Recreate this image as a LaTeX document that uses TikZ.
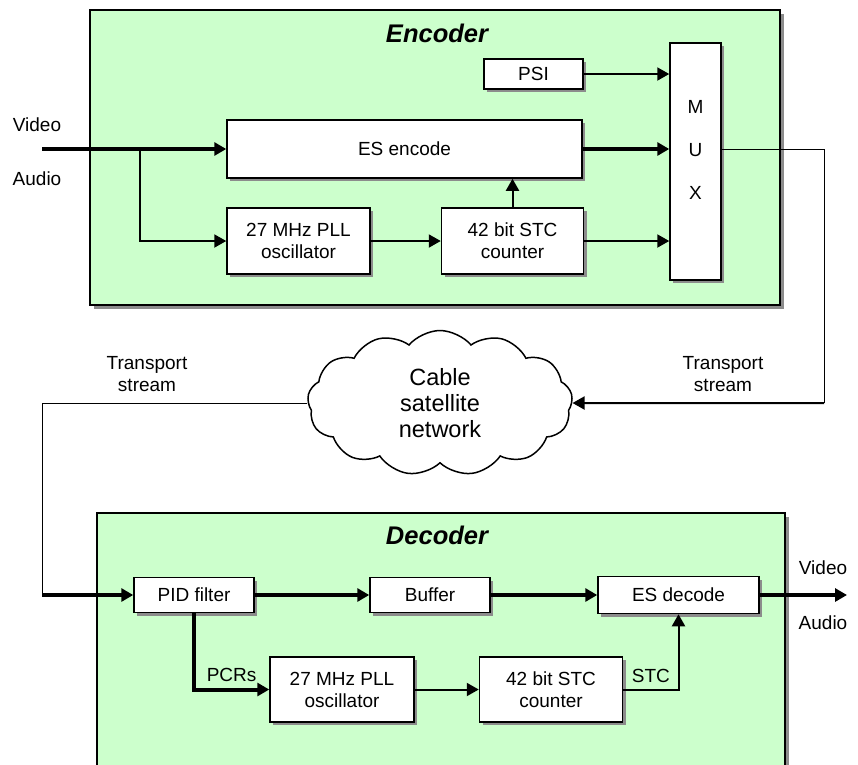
\documentclass[tikz,border=0pt]{standalone}
\usepackage{fontspec}
\setmainfont{Liberation Sans}
\usetikzlibrary{arrows.meta, positioning, shapes.symbols, shadows, calc}

\definecolor{panelgreen}{RGB}{204,255,204}

\begin{document}
\begin{tikzpicture}[
    x=1pt, y=-1pt,
    font=\fontsize{19}{22}\selectfont,
    panel/.style={draw, line width=1.5pt, fill=panelgreen, inner sep=0pt,
        drop shadow={shadow xshift=4pt, shadow yshift=-4pt, fill=black!45, opacity=1}},
    box/.style={draw, line width=1.5pt, fill=white, align=center, inner sep=0pt,
        drop shadow={shadow xshift=3pt, shadow yshift=-3pt, fill=black!45, opacity=1}},
    title/.style={font=\fontsize{25.5}{30}\selectfont\bfseries\itshape},
    arrow/.style={-{Triangle[length=12pt, width=13pt]}, line width=2pt},
    fat/.style={arrow, line width=4pt},
    wire/.style={line width=1pt}
]
\useasboundingbox (0,0) rectangle (858,764);
\clip (0,0) rectangle (858,764);

% Encoder
\node[panel, minimum width=690pt, minimum height=295pt] (enc) at (435,157.5) {};
\node[title] (enctitle) at (437,33) {Encoder};

\node[box, minimum width=99pt, minimum height=30pt] (psi) at (533.5,74) {PSI};
\node[box, minimum width=355pt, minimum height=58pt] (esenc) at (404.5,149) {ES encode};
\node[box, minimum width=143pt, minimum height=66pt] (pll1) at (298.5,241) {27 MHz PLL\\oscillator};
\node[box, minimum width=142pt, minimum height=66pt, right=70pt of pll1] (stc1) {42 bit STC\\counter};
\node[box, minimum width=51pt, minimum height=237pt] (mux) at (695.5,161.5) {};
\node[align=center, font=\fontsize{19}{43}\selectfont] (muxtext) at (695.5,150) {M\\U\\X};

\node (vidin) at (37,125) {Video};
\node (audin) at (37,179) {Audio};
\coordinate (vin) at (42,149);
\coordinate (split) at (140,149);

\draw[fat] (vin) -- (esenc.west);
\draw[arrow] (split) |- (pll1.west);
\draw[arrow] (pll1) -- (stc1);
\draw[arrow] (stc1.north) -- (stc1.north |- esenc.south);
\draw[arrow] (stc1.east) -- (stc1.east -| mux.west);
\draw[fat] (esenc.east) -- (esenc.east -| mux.west);
\draw[arrow] (psi.east) -- (psi.east -| mux.west);

% Network
\node[cloud, draw, line width=1.5pt, cloud puffs=13, cloud puff arc=100, cloud ignores aspect,
      minimum width=265pt, minimum height=145pt, align=center,
      font=\fontsize{23.5}{26}\selectfont] (net) at (440,403) {Cable\\satellite\\network};

\node[align=center] (tsleft) at (147,374) {Transport\\stream};
\node[align=center] (tsright) at (723,374) {Transport\\stream};
\coordinate (tsr) at (824,403);
\coordinate (tsl) at (42,595);

\draw[wire] (mux.east |- esenc.east) -| (tsr);
\draw[arrow] (tsr) -- (net.east);
\draw[wire] (net.west) -| (tsl);

% Decoder
\node[panel, minimum width=688pt, minimum height=270pt, anchor=north west] (dec) at (96,512) {};
\node[title] (dectitle) at (437,535) {Decoder};

\node[box, minimum width=120pt, minimum height=35pt] (pid) at (194,595) {PID filter};
\node[box, minimum width=120pt, minimum height=35pt] (buf) at (430,595) {Buffer};
\node[box, minimum width=161pt, minimum height=37pt] (esdec) at (678.5,595) {ES decode};
\node[box, minimum width=144pt, minimum height=65pt] (pll2) at (342,689.5) {27 MHz PLL\\oscillator};
\node[box, minimum width=143pt, minimum height=65pt, right=64pt of pll2] (stc2) {42 bit STC\\counter};

\node (vidout) at (823,568) {Video};
\node (audout) at (823,623) {Audio};
\coordinate (vout) at (847,595);

\draw[fat] (tsl) -- (pid);
\draw[fat] (pid) -- (buf);
\draw[fat] (buf) -- (esdec);
\draw[fat] (esdec) -- (vout);
\draw[fat] (pid.south) |- (pll2.west) node[pos=0.75, above=2pt] {PCRs};
\draw[arrow] (pll2) -- (stc2);
\draw[arrow] (stc2.east) -| (esdec.south) node[pos=0.25, above=2pt] {STC};

\end{tikzpicture}
\end{document}
